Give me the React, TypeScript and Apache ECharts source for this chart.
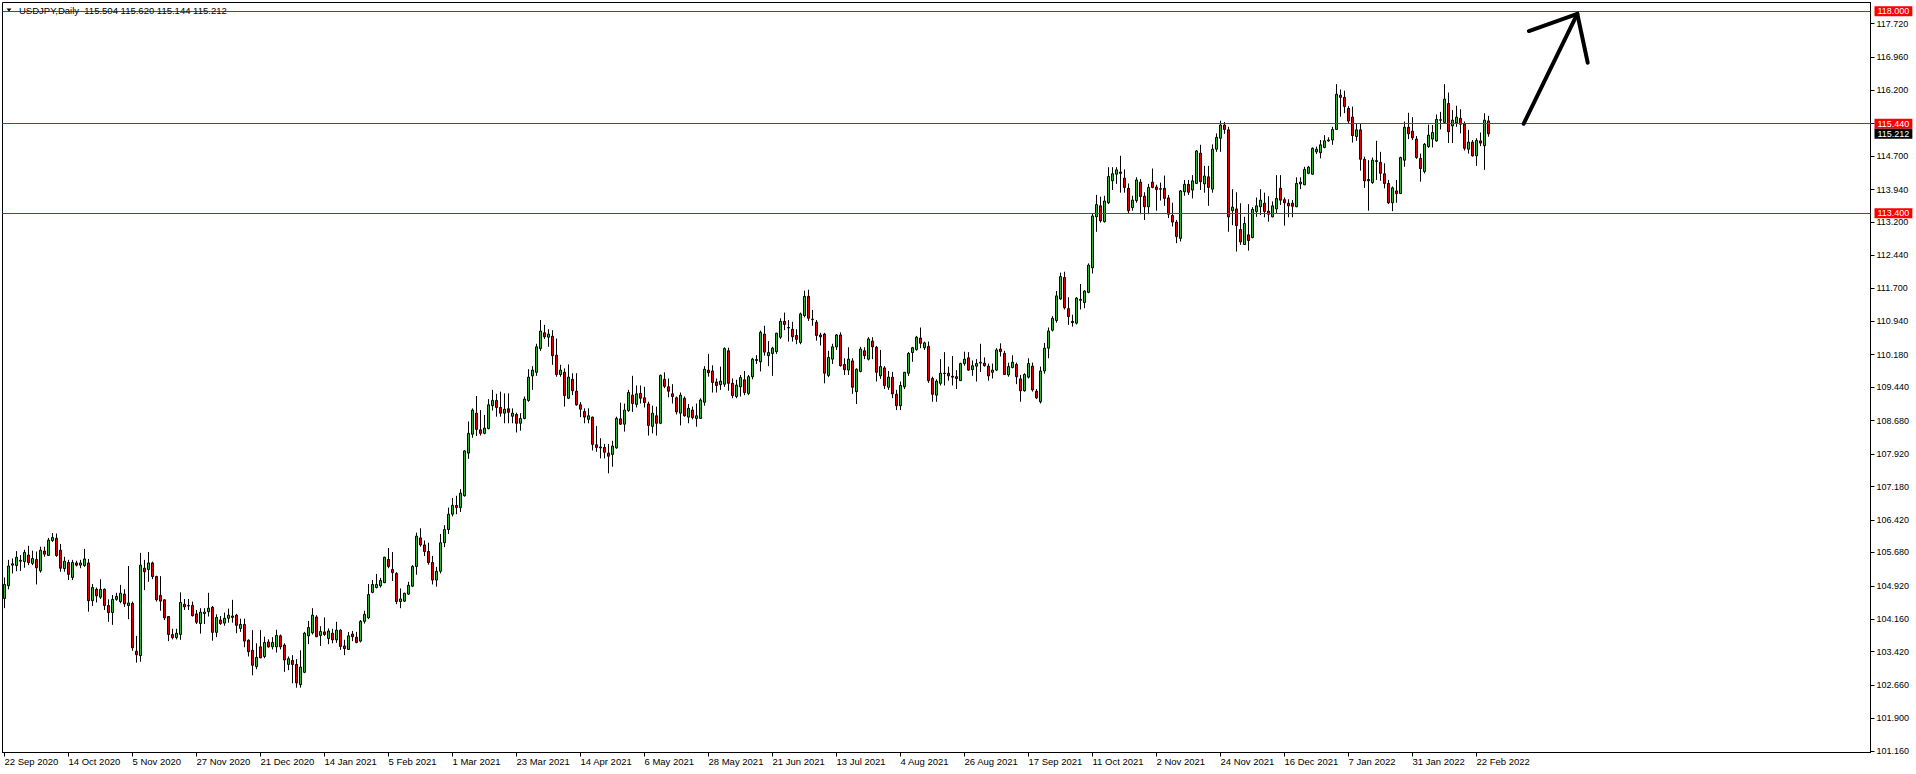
import React, { useEffect, useRef } from 'react';
import * as echarts from 'echarts';

const FONT = '"Liberation Sans", Arial, sans-serif';
const TITLE = 'USDJPY,Daily  115.504 115.620 115.144 115.212';
const MONTHS = ['Jan', 'Feb', 'Mar', 'Apr', 'May', 'Jun', 'Jul', 'Aug', 'Sep', 'Oct', 'Nov', 'Dec'];
const START_DATE = '2020-09-22';
const END_DATE = '2022-02-25';
const MISSING_DAYS = ['2020-12-25', '2021-01-01'];
const TOTAL_SLOTS = 467;
const LABEL_EVERY = 16;

// [open, close, low, high]
const ohlc: number[][] = [
  [104.63, 104.95, 104.41, 105.11], [104.92, 105.37, 104.84, 105.51], [105.39, 105.42, 105.20, 105.54], [105.38, 105.57, 105.25, 105.71],
  [105.48, 105.50, 105.26, 105.62], [105.47, 105.68, 105.33, 105.74], [105.62, 105.45, 105.39, 105.83], [105.43, 105.54, 105.39, 105.72],
  [105.52, 105.33, 104.95, 105.70], [105.26, 105.73, 105.22, 105.81], [105.71, 105.64, 105.58, 105.81], [105.61, 105.96, 105.60, 106.01],
  [105.95, 106.02, 105.92, 106.12], [106.00, 105.61, 105.58, 106.11], [105.73, 105.32, 105.24, 105.87], [105.31, 105.48, 105.24, 105.58],
  [105.45, 105.18, 105.05, 105.51], [105.11, 105.45, 105.05, 105.51], [105.44, 105.39, 105.36, 105.49], [105.39, 105.44, 105.32, 105.51],
  [105.38, 105.53, 105.35, 105.76], [105.44, 104.58, 104.33, 105.53], [104.58, 104.88, 104.46, 104.96], [104.84, 104.69, 104.54, 104.88],
  [104.66, 104.84, 104.62, 105.07], [104.84, 104.47, 104.37, 104.86], [104.47, 104.31, 104.10, 104.61], [104.31, 104.61, 104.03, 104.71],
  [104.61, 104.68, 104.58, 104.76], [104.56, 104.75, 104.52, 104.94], [104.73, 104.51, 104.44, 104.84], [104.47, 104.53, 104.16, 105.37],
  [104.52, 103.51, 103.44, 104.56], [103.43, 103.35, 103.17, 103.78], [103.33, 105.39, 103.19, 105.67], [105.32, 105.24, 104.82, 105.51],
  [105.29, 105.44, 105.01, 105.69], [105.44, 105.13, 105.07, 105.47], [105.13, 104.60, 104.56, 105.15], [104.70, 104.57, 104.35, 105.14],
  [104.60, 104.19, 104.14, 104.61], [104.22, 103.81, 103.66, 104.23], [103.81, 103.74, 103.70, 103.94], [103.74, 103.84, 103.70, 103.94],
  [103.81, 104.54, 103.69, 104.77], [104.50, 104.44, 104.37, 104.62], [104.47, 104.46, 104.37, 104.62], [104.47, 104.24, 104.22, 104.56],
  [104.28, 104.09, 104.05, 104.37], [104.06, 104.32, 103.83, 104.41], [104.29, 104.32, 104.05, 104.41], [104.33, 104.41, 104.22, 104.76],
  [104.43, 103.86, 103.67, 104.46], [103.86, 104.20, 103.75, 104.27], [104.14, 104.06, 104.03, 104.23], [104.07, 104.18, 104.01, 104.31],
  [104.18, 104.25, 104.08, 104.40], [104.23, 104.20, 104.08, 104.60], [104.25, 104.02, 103.84, 104.28], [103.95, 104.04, 103.87, 104.17],
  [104.04, 103.66, 103.52, 104.17], [103.68, 103.42, 103.31, 103.70], [103.45, 103.11, 102.88, 103.91], [103.08, 103.29, 103.02, 103.61],
  [103.53, 103.28, 103.27, 103.91], [103.31, 103.63, 103.27, 103.76], [103.64, 103.53, 103.51, 103.70], [103.53, 103.63, 103.47, 103.75],
  [103.53, 103.79, 103.40, 103.92], [103.78, 103.53, 103.47, 103.81], [103.57, 103.23, 102.96, 103.61], [103.13, 103.26, 103.00, 103.31],
  [103.22, 103.13, 102.70, 103.34], [103.13, 102.71, 102.60, 103.25], [102.67, 103.07, 102.60, 103.45], [102.95, 103.84, 102.93, 103.87],
  [103.78, 103.97, 103.59, 104.12], [103.85, 104.25, 103.81, 104.41], [104.21, 103.76, 103.75, 104.25], [103.79, 103.88, 103.55, 104.00],
  [103.87, 103.81, 103.78, 104.20], [103.72, 103.89, 103.59, 103.95], [103.84, 103.69, 103.61, 103.94], [103.69, 103.91, 103.62, 104.10],
  [103.91, 103.54, 103.46, 103.93], [103.55, 103.49, 103.34, 103.69], [103.47, 103.78, 103.46, 103.87], [103.82, 103.76, 103.66, 103.89],
  [103.75, 103.63, 103.61, 103.87], [103.66, 104.11, 103.63, 104.14], [104.11, 104.27, 104.06, 104.35], [104.19, 104.72, 104.16, 104.96],
  [104.77, 104.95, 104.75, 105.05], [104.88, 104.95, 104.86, 105.19], [104.92, 105.04, 104.88, 105.10], [104.99, 105.57, 104.98, 105.58],
  [105.52, 105.36, 105.32, 105.78], [105.29, 105.22, 105.03, 105.69], [105.20, 104.56, 104.50, 105.23], [104.56, 104.62, 104.41, 104.86],
  [104.57, 104.75, 104.55, 104.76], [104.73, 104.93, 104.71, 105.01], [104.91, 105.36, 104.89, 105.39], [105.36, 106.05, 105.17, 106.13],
  [106.01, 105.85, 105.81, 106.23], [105.85, 105.70, 105.60, 105.95], [105.70, 105.45, 105.40, 105.90], [105.45, 105.05, 104.95, 105.60],
  [105.05, 105.25, 104.90, 105.35], [105.25, 105.90, 105.20, 106.10], [105.90, 106.20, 105.80, 106.30], [106.20, 106.55, 106.10, 106.70],
  [106.55, 106.75, 106.50, 106.92], [106.75, 106.70, 106.55, 106.97], [106.70, 107.03, 106.60, 107.12], [106.97, 107.99, 106.95, 108.01],
  [107.94, 108.39, 107.81, 108.66], [108.37, 108.92, 108.29, 108.96], [108.85, 108.48, 108.33, 109.24], [108.47, 108.39, 108.34, 108.92],
  [108.39, 108.51, 108.37, 108.81], [108.50, 109.04, 108.48, 109.17], [109.02, 109.14, 108.91, 109.38], [109.14, 108.98, 108.77, 109.29],
  [108.98, 108.85, 108.77, 109.34], [108.85, 108.94, 108.62, 109.30], [108.95, 108.87, 108.62, 109.30], [108.78, 108.85, 108.62, 108.96],
  [108.82, 108.62, 108.41, 108.86], [108.62, 108.73, 108.45, 108.85], [108.73, 109.17, 108.71, 109.23], [109.14, 109.67, 109.11, 109.85],
  [109.70, 109.83, 109.38, 109.92], [109.78, 110.36, 109.70, 110.43], [110.32, 110.72, 110.27, 110.97], [110.68, 110.59, 110.54, 110.86],
  [110.58, 110.65, 110.36, 110.76], [110.60, 110.16, 109.95, 110.74], [110.17, 109.73, 109.68, 110.55], [109.73, 109.83, 109.68, 109.95],
  [109.78, 109.25, 109.00, 109.87], [109.19, 109.67, 109.17, 109.96], [109.62, 109.36, 109.26, 109.76], [109.35, 109.04, 109.02, 109.76],
  [109.04, 108.94, 108.76, 109.10], [108.89, 108.76, 108.62, 108.96], [108.71, 108.79, 108.62, 108.96], [108.76, 108.14, 108.00, 108.77],
  [108.13, 108.07, 107.97, 108.56], [108.08, 108.06, 107.82, 108.28], [108.07, 107.96, 107.82, 108.15], [107.94, 107.87, 107.48, 108.15],
  [107.91, 108.10, 107.63, 108.22], [108.06, 108.73, 108.04, 108.77], [108.72, 108.60, 108.58, 109.09], [108.60, 108.92, 108.43, 109.07],
  [108.91, 109.32, 108.88, 109.38], [109.26, 109.07, 108.88, 109.70], [109.05, 109.29, 108.98, 109.48], [109.30, 109.19, 109.07, 109.48],
  [109.20, 109.09, 108.98, 109.45], [109.06, 108.57, 108.34, 109.11], [108.55, 108.85, 108.39, 109.02], [108.79, 108.62, 108.34, 109.00],
  [108.62, 109.71, 108.60, 109.73], [109.62, 109.46, 109.42, 109.78], [109.45, 109.35, 109.21, 109.64], [109.29, 109.23, 109.07, 109.51],
  [109.20, 108.88, 108.82, 109.23], [108.85, 109.26, 108.57, 109.32], [109.19, 108.79, 108.77, 109.23], [108.76, 108.96, 108.62, 109.06],
  [108.92, 108.75, 108.71, 109.00], [108.73, 108.79, 108.54, 109.07], [108.73, 109.15, 108.72, 109.19], [109.10, 109.85, 109.02, 109.92],
  [109.83, 109.77, 109.68, 110.20], [109.81, 109.55, 109.32, 109.94], [109.56, 109.48, 109.32, 109.64], [109.50, 109.58, 109.38, 109.91],
  [109.51, 110.32, 109.45, 110.35], [110.27, 109.53, 109.36, 110.34], [109.53, 109.25, 109.19, 109.64], [109.23, 109.49, 109.19, 109.61],
  [109.45, 109.66, 109.23, 109.72], [109.61, 109.32, 109.26, 109.81], [109.30, 109.68, 109.26, 109.72], [109.68, 110.08, 109.62, 110.11],
  [110.05, 110.07, 109.97, 110.17], [110.02, 110.69, 109.80, 110.73], [110.65, 110.24, 110.16, 110.84], [110.16, 110.23, 109.92, 110.49],
  [110.21, 110.33, 109.70, 110.36], [110.25, 110.67, 110.20, 110.68], [110.58, 110.94, 110.54, 111.01], [110.94, 110.87, 110.74, 111.14],
  [110.80, 110.79, 110.48, 110.97], [110.76, 110.59, 110.48, 110.93], [110.62, 110.53, 110.42, 110.76], [110.46, 111.11, 110.42, 111.14],
  [111.07, 111.51, 111.03, 111.64], [111.51, 111.01, 110.95, 111.66], [110.99, 110.98, 110.84, 111.20], [110.92, 110.62, 110.50, 110.97],
  [110.63, 110.59, 110.39, 110.68], [110.65, 109.76, 109.53, 110.68], [109.71, 110.12, 109.67, 110.27], [110.08, 110.36, 109.97, 110.43],
  [110.36, 110.63, 110.29, 110.65], [110.63, 109.93, 109.91, 110.69], [109.96, 109.84, 109.72, 110.10], [109.83, 110.08, 109.72, 110.35],
  [110.04, 109.44, 109.29, 110.10], [109.34, 109.85, 109.06, 109.87], [109.80, 110.31, 109.78, 110.36], [110.27, 110.16, 110.08, 110.35],
  [110.08, 110.54, 110.05, 110.58], [110.49, 110.36, 110.08, 110.58], [110.35, 109.78, 109.57, 110.38], [109.70, 109.91, 109.63, 110.29],
  [109.88, 109.48, 109.40, 109.92], [109.44, 109.67, 109.38, 109.81], [109.67, 109.29, 109.19, 109.79], [109.28, 109.02, 108.92, 109.38],
  [109.02, 109.48, 108.92, 109.57], [109.45, 109.78, 109.40, 109.79], [109.76, 110.21, 109.70, 110.24], [110.23, 110.34, 110.02, 110.36],
  [110.30, 110.58, 110.27, 110.61], [110.56, 110.44, 110.33, 110.80], [110.34, 110.45, 110.29, 110.48], [110.37, 109.59, 109.54, 110.48],
  [109.64, 109.28, 109.11, 109.68], [109.26, 109.58, 109.11, 109.62], [109.53, 109.76, 109.48, 110.08], [109.75, 109.76, 109.48, 110.24],
  [109.76, 109.70, 109.59, 109.91], [109.69, 109.67, 109.48, 110.15], [109.68, 109.64, 109.40, 109.83], [109.59, 109.98, 109.59, 110.00],
  [109.98, 110.08, 109.93, 110.25], [110.11, 109.83, 109.82, 110.24], [109.84, 109.93, 109.70, 110.05], [109.92, 109.98, 109.57, 110.08],
  [109.99, 110.01, 109.79, 110.43], [109.99, 109.93, 109.91, 110.12], [109.92, 109.70, 109.59, 109.98], [109.78, 109.83, 109.64, 109.98],
  [109.83, 110.29, 109.81, 110.33], [110.31, 110.25, 110.14, 110.44], [110.21, 109.73, 109.72, 110.27], [109.72, 109.91, 109.68, 110.00],
  [109.89, 110.01, 109.87, 110.17], [109.96, 109.68, 109.51, 110.00], [109.63, 109.36, 109.11, 109.72], [109.36, 109.73, 109.34, 109.76],
  [109.67, 109.98, 109.64, 110.10], [109.92, 109.38, 109.34, 110.00], [109.35, 109.20, 109.17, 109.40], [109.11, 109.81, 109.07, 109.91],
  [109.81, 110.33, 109.75, 110.45], [110.33, 110.72, 110.10, 110.80], [110.74, 111.01, 110.71, 111.06], [110.96, 111.52, 110.91, 111.63],
  [111.45, 111.96, 111.43, 112.05], [111.94, 111.25, 111.21, 112.07], [111.23, 111.05, 110.86, 111.49], [110.94, 110.91, 110.82, 111.09],
  [110.90, 111.47, 110.87, 111.49], [111.44, 111.42, 111.21, 111.79], [111.37, 111.63, 111.24, 111.65], [111.60, 112.22, 111.58, 112.26],
  [112.16, 113.34, 112.03, 113.40], [113.32, 113.60, 112.98, 113.82], [113.57, 113.23, 113.19, 113.78], [113.21, 113.68, 113.19, 113.80],
  [113.64, 114.24, 113.61, 114.45], [114.14, 114.30, 113.93, 114.45], [114.29, 114.39, 114.07, 114.45], [114.34, 114.31, 113.87, 114.71],
  [114.20, 113.99, 113.87, 114.40], [113.97, 113.46, 113.40, 114.08], [113.53, 113.70, 113.46, 113.80], [113.69, 114.16, 113.64, 114.22],
  [114.11, 113.78, 113.38, 114.18], [113.79, 113.55, 113.25, 113.88], [113.55, 113.99, 113.38, 114.07], [114.11, 113.99, 113.97, 114.42],
  [114.00, 113.94, 113.46, 114.05], [113.96, 113.95, 113.69, 114.10], [113.97, 113.74, 113.57, 114.26], [113.75, 113.38, 113.29, 113.82],
  [113.35, 113.20, 113.10, 113.64], [113.20, 112.87, 112.72, 113.25], [112.83, 113.91, 112.76, 113.93], [113.89, 114.06, 113.80, 114.16],
  [114.06, 113.88, 113.82, 114.16], [113.93, 114.14, 113.74, 114.27], [114.08, 114.82, 114.07, 114.84], [114.77, 114.12, 113.93, 114.96],
  [114.07, 114.25, 113.87, 114.48], [114.23, 113.99, 113.57, 114.48], [113.95, 114.86, 113.87, 114.97], [114.86, 115.13, 114.80, 115.22],
  [115.11, 115.41, 114.80, 115.51], [115.41, 115.31, 115.21, 115.48], [115.30, 113.32, 112.98, 115.37], [113.46, 113.54, 113.13, 113.95],
  [113.50, 113.12, 112.53, 113.88], [113.03, 112.75, 112.68, 113.63], [112.69, 113.17, 112.68, 113.32], [112.91, 112.78, 112.55, 113.61],
  [112.85, 113.49, 112.83, 113.54], [113.44, 113.57, 113.32, 113.76], [113.55, 113.70, 113.36, 113.95], [113.63, 113.44, 113.31, 113.87],
  [113.45, 113.38, 113.21, 113.79], [113.32, 113.57, 113.31, 113.67], [113.50, 113.74, 113.40, 114.27], [113.97, 113.70, 113.59, 114.27],
  [113.71, 113.64, 113.12, 113.76], [113.63, 113.57, 113.31, 113.72], [113.63, 113.56, 113.31, 113.70], [113.55, 114.08, 113.54, 114.22],
  [114.07, 114.11, 113.95, 114.22], [114.05, 114.40, 114.04, 114.46], [114.31, 114.45, 114.29, 114.48], [114.29, 114.88, 114.28, 114.90],
  [114.80, 114.86, 114.75, 114.92], [114.78, 114.96, 114.65, 115.07], [114.90, 115.05, 114.88, 115.18], [115.05, 115.07, 115.03, 115.13],
  [115.07, 115.31, 114.96, 115.37], [115.31, 116.11, 115.30, 116.34], [116.09, 116.04, 115.60, 116.22], [116.04, 115.83, 115.68, 116.19],
  [115.79, 115.50, 115.45, 115.84], [115.59, 115.17, 115.01, 115.83], [115.15, 115.30, 115.05, 115.45], [115.30, 114.63, 114.37, 115.45],
  [114.63, 114.14, 113.98, 114.69], [114.17, 114.14, 113.46, 114.61], [114.10, 114.61, 114.07, 114.67], [114.58, 114.60, 114.16, 115.05],
  [114.56, 114.31, 114.14, 114.80], [114.30, 114.08, 113.97, 114.54], [114.08, 113.64, 113.61, 114.16], [113.64, 113.98, 113.45, 114.01],
  [113.91, 113.85, 113.64, 114.16], [113.85, 114.67, 113.84, 114.69], [114.61, 115.36, 114.46, 115.49], [115.36, 115.21, 115.09, 115.69],
  [115.27, 115.12, 115.07, 115.59], [115.09, 114.67, 114.64, 115.16], [114.65, 114.42, 114.12, 114.76], [114.35, 114.97, 114.31, 115.00],
  [114.92, 115.18, 114.89, 115.42], [115.09, 115.24, 114.90, 115.41], [115.05, 115.54, 115.03, 115.65], [115.52, 115.53, 115.31, 115.71],
  [115.47, 116.00, 115.45, 116.34], [115.90, 115.26, 115.00, 116.15], [115.39, 115.52, 115.00, 115.75], [115.46, 115.59, 115.37, 115.85],
  [115.56, 115.43, 115.22, 115.77], [115.43, 114.88, 114.83, 115.49], [114.86, 115.02, 114.76, 115.30], [115.02, 114.71, 114.69, 115.07],
  [114.71, 115.06, 114.48, 115.11], [115.05, 115.00, 114.93, 115.24], [114.94, 115.52, 114.39, 115.68], [115.504, 115.212, 115.144, 115.620],
];

const levelLines = [118.0, 115.44, 113.4];
const lastPrice = 115.212;
const yLabelValues = [117.72, 116.96, 116.2, 114.7, 113.94, 113.2, 112.44, 111.7, 110.94, 110.18, 109.44, 108.68, 107.92,
  107.18, 106.42, 105.68, 104.92, 104.16, 103.42, 102.66, 101.9, 101.16];
const yTickValues = [117.72, 116.96, 116.2, 115.44, 114.7, 113.94, 113.2, 112.44, 111.7, 110.94, 110.18, 109.44, 108.68, 107.92,
  107.18, 106.42, 105.68, 104.92, 104.16, 103.42, 102.66, 101.9, 101.16];
const Y_MIN = 101.124;
const Y_MAX = 118.2;
// arrow annotation in [bar index, price]
const arrowShaft = [[379.8, 115.44], [393.2, 117.94]];
const arrowHead = [[381.1, 117.55], [393.2, 117.94], [395.8, 116.83]];

const GREEN = '#32b432';
const RED = '#dd0000';

function buildDates(): string[] {
  const out: string[] = [];
  const d = new Date(START_DATE + 'T00:00:00Z');
  const end = new Date(END_DATE + 'T00:00:00Z');
  while (d.getTime() <= end.getTime()) {
    const wd = d.getUTCDay();
    const iso = d.toISOString().slice(0, 10);
    if (wd !== 0 && wd !== 6 && MISSING_DAYS.indexOf(iso) < 0) {
      out.push(d.getUTCDate() + ' ' + MONTHS[d.getUTCMonth()] + ' ' + d.getUTCFullYear());
    }
    d.setUTCDate(d.getUTCDate() + 1);
  }
  return out;
}

const dates = buildDates();
const categories = dates.concat(Array.from({ length: Math.max(0, TOTAL_SLOTS - dates.length) }, () => ''));
const showIdx = (i: number) => i % LABEL_EVERY === 0 && i < dates.length;

export default function App() {
  const ref = useRef<HTMLDivElement>(null);
  useEffect(() => {
    if (!ref.current) return;
    const chart = echarts.init(ref.current, null, { renderer: 'svg' });
    const priceLabel = (bg: string, value: number) => ({
      show: true,
      position: 'end',
      distance: 4,
      formatter: value.toFixed(3),
      backgroundColor: bg,
      color: '#fff',
      fontSize: 9,
      fontFamily: FONT,
      lineHeight: 9,
      padding: [1, 3, 0, 3],
    });
    chart.setOption({
      animation: false,
      backgroundColor: '#fff',
      textStyle: { fontFamily: FONT },
      title: {
        text: TITLE,
        left: 19,
        top: 5,
        padding: 0,
        textStyle: { fontSize: 9.5, fontWeight: 'normal', color: '#000', fontFamily: FONT, lineHeight: 11 },
      },
      grid: { left: 2.5, right: 45.5, top: 2.5, bottom: 21.5, show: true, borderColor: '#000', borderWidth: 1, backgroundColor: '#fff' },
      xAxis: {
        type: 'category',
        data: categories,
        boundaryGap: true,
        axisLine: { lineStyle: { color: '#000', width: 1 } },
        axisTick: { show: true, alignWithLabel: true, interval: (i: number) => showIdx(i), length: 4, lineStyle: { color: '#000' } },
        axisLabel: {
          interval: (i: number) => showIdx(i),
          align: 'left',
          margin: 4,
          fontSize: 9.5,
          color: '#000',
          fontFamily: FONT,
        },
        splitLine: { show: false },
      },
      yAxis: {
        type: 'value',
        position: 'right',
        min: Y_MIN,
        max: Y_MAX,
        axisLine: { show: true, lineStyle: { color: '#000' } },
        axisTick: { show: true, length: 4, lineStyle: { color: '#000' }, customValues: yTickValues },
        axisLabel: {
          customValues: yLabelValues,
          formatter: (v: number) => v.toFixed(3),
          fontSize: 9,
          color: '#000',
          margin: 6,
          fontFamily: FONT,
        },
        splitLine: { show: false },
      },
      series: [
        {
          type: 'candlestick',
          data: ohlc,
          barWidth: 2,
          clip: false,
          itemStyle: { color: GREEN, color0: RED, borderColor: '#000', borderColor0: '#000', borderWidth: 1 },
          markLine: {
            silent: true,
            animation: false,
            symbol: ['none', 'none'],
            data: [
              ...levelLines.map((v) => ({
                yAxis: v,
                lineStyle: { color: '#ff0000', width: 1, type: 'solid' },
                label: priceLabel('#ff0000', v),
              })),
              {
                yAxis: lastPrice,
                lineStyle: { color: 'rgba(0,0,0,0)', width: 1, type: 'solid' },
                label: priceLabel('#000000', lastPrice),
              },
            ],
          },
        },
      ],
    });

    const toPx = (pt: number[]) => {
      const f = Math.floor(pt[0]);
      const a = chart.convertToPixel({ gridIndex: 0 }, [f, pt[1]]) as number[];
      const b = chart.convertToPixel({ gridIndex: 0 }, [f + 1, pt[1]]) as number[];
      return [a[0] + (pt[0] - f) * (b[0] - a[0]), a[1]];
    };
    chart.setOption({
      graphic: [
        { type: 'polygon', shape: { points: [[6.5, 8.5], [11.5, 8.5], [9, 11.5]] }, style: { fill: '#000' }, z: 10 },
        {
          type: 'polyline',
          shape: { points: arrowShaft.map(toPx) },
          style: { stroke: '#000', lineWidth: 4, lineCap: 'round', fill: null },
          z: 10,
        },
        {
          type: 'polyline',
          shape: { points: arrowHead.map(toPx) },
          style: { stroke: '#000', lineWidth: 4, lineCap: 'round', lineJoin: 'miter', fill: null },
          z: 10,
        },
      ],
    });
    return () => chart.dispose();
  }, []);
  return <div ref={ref} style={{ position: 'fixed', left: 0, top: 0, width: 1916, height: 774 }} />;
}
